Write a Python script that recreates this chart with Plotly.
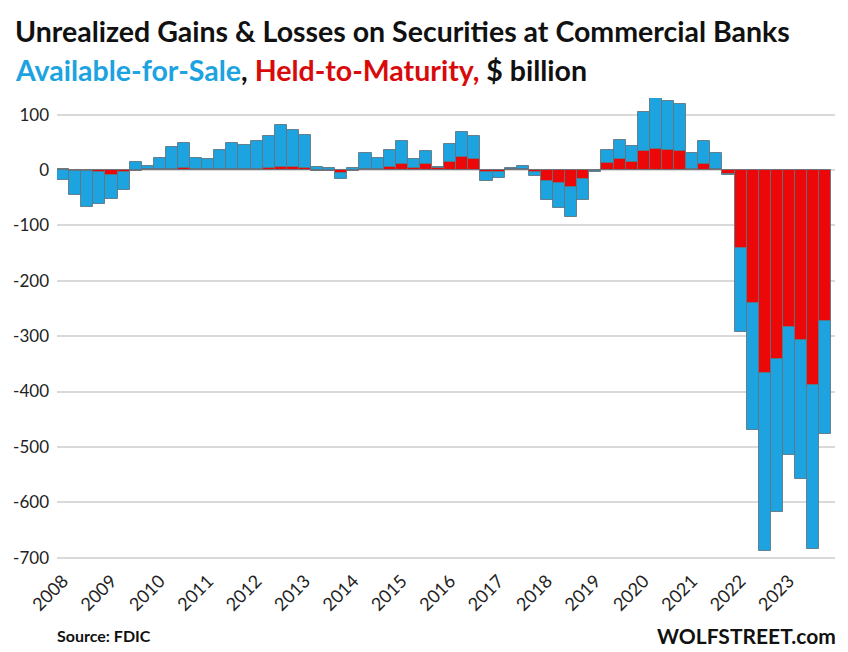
import plotly.graph_objects as go

years = [str(y) for y in range(2008, 2024)]
quarters = [f"{y} Q{q}" for y in range(2008, 2024) for q in range(1, 5)]

# Held-to-Maturity unrealized gains/losses, $ billion
htm = [1, -1, -2, -3, -9, -4, -2, 1,
       1, 1, 3, 1, 1, 1, 1, 1,
       2, 3, 6, 5, 4, -1, -2, -5,
       -2, 2, 2, 6, 10, 3, 10, 3,
       15, 23, 19, -4, -3, 1, 2, -3,
       -20, -23, -31, -17, -2, 12, 20, 14,
       35, 38, 36, 35, 2, 11, 1, -8,
       -140, -240, -366, -341, -283, -307, -388, -272]

# Available-for-Sale unrealized gains/losses, $ billion
afs = [-18, -44, -64, -59, -44, -33, 14, 7,
       20, 40, 45, 20, 18, 35, 48, 45,
       50, 59, 76, 68, 60, 5, 3, -12,
       4, 29, 20, 31, 42, 16, 25, 3,
       32, 45, 42, -16, -11, 3, 5, -8,
       -35, -45, -53, -37, -1, 25, 35, 30,
       70, 92, 89, 85, 28, 42, 29, -1,
       -152, -229, -322, -276, -232, -251, -297, -204]

y_ticks = [100, 0, -100, -200, -300, -400, -500, -600, -700]
y_tick_text = ["100", "0", "-100", "-200", "-300", "-400", "-500", "-600", "-700"]

x_idx = list(range(len(quarters)))
year_tick_idx = [quarters.index(f"{y} Q1") for y in years]

BLUE = "#1CA3E0"
RED = "#EC0808"
EDGE = "rgba(95,115,125,0.85)"
FONT = "Lato"

fig = go.Figure()
fig.add_trace(go.Bar(x=x_idx, y=htm, name="Held-to-Maturity", customdata=quarters,
                     marker=dict(color=RED, line=dict(color=EDGE, width=1))))
fig.add_trace(go.Bar(x=x_idx, y=afs, name="Available-for-Sale", customdata=quarters,
                     marker=dict(color=BLUE, line=dict(color=EDGE, width=1))))

fig.update_layout(
    width=848, height=652,
    barmode="relative", bargap=0,
    showlegend=False,
    plot_bgcolor="white", paper_bgcolor="white",
    margin=dict(l=57, r=13, t=98, b=91),
    font=dict(family=FONT, color="#222"),
    xaxis=dict(range=[-0.5, 63.8], tickmode="array", tickvals=year_tick_idx,
               ticktext=years, tickangle=-45, showgrid=False, zeroline=False,
               ticks="", tickfont=dict(size=18, color="#222"), showline=False,
               ticklabelstandoff=5),
    yaxis=dict(range=[-706, 130], tickmode="array", tickvals=y_ticks,
               ticktext=y_tick_text, showgrid=True, gridcolor="#D9D9D9",
               gridwidth=2, zeroline=False, ticks="", ticklabelstandoff=7,
               tickfont=dict(size=17, color="#222")),
    annotations=[
        dict(text="<b>Unrealized Gains &amp; Losses on Securities at Commercial Banks</b>",
             xref="paper", yref="paper", x=-0.056, y=1.1445, xanchor="left",
             yanchor="middle", showarrow=False, font=dict(size=28.5, color="#111", family=FONT)),
        dict(text=f"<b><span style='color:{BLUE}'>Available-for-Sale</span>, "
                  f"<span style='color:#D90A0A'>Held-to-Maturity,</span> $ billion</b>",
             xref="paper", yref="paper", x=-0.056, y=1.0605, xanchor="left",
             yanchor="middle", showarrow=False, font=dict(size=28.5, color="#111", family=FONT)),
        dict(text="<b>Source: FDIC</b>", xref="paper", yref="paper", x=-0.003, y=-0.16,
             xanchor="left", yanchor="middle", showarrow=False,
             font=dict(size=16, color="#111", family=FONT)),
        dict(text="<b>WOLFSTREET.com</b>", xref="paper", yref="paper", x=1.004, y=-0.16,
             xanchor="right", yanchor="middle", showarrow=False,
             font=dict(size=21, color="#111", family=FONT)),
    ],
)

fig.write_html("out.html", config={"displayModeBar": False},
               post_script="document.body.style.margin='0';document.body.style.overflow='hidden';")
